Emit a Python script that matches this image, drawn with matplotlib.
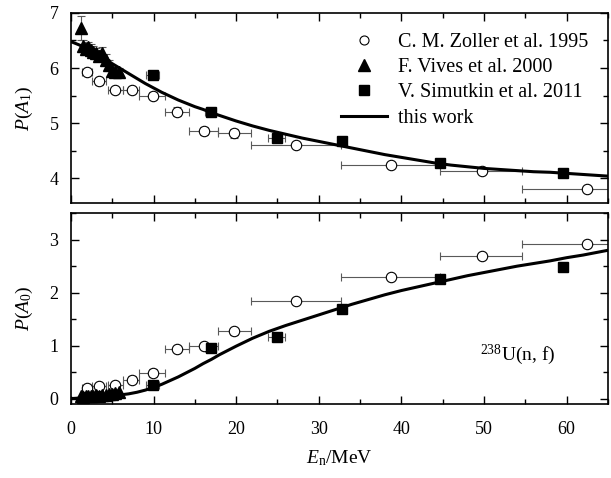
import matplotlib.pyplot as plt
import numpy as np
from matplotlib.ticker import MultipleLocator
from matplotlib.lines import Line2D

plt.rcParams['font.family'] = ['Liberation Serif', 'DejaVu Serif']
plt.rcParams['mathtext.fontset'] = 'custom'
plt.rcParams['mathtext.rm'] = 'Liberation Serif'
plt.rcParams['mathtext.it'] = 'Liberation Serif:italic'

# === Data ===
# Zoller et al. 1995 (open circles), bins given as low / high edges
zol_E = [1.9, 3.4, 5.4, 7.35, 9.9, 12.85, 16.1, 19.8, 27.3, 38.7, 49.7, 62.5]
zol_lo = [1.3, 2.6, 4.5, 6.3, 8.3, 11.4, 14.3, 17.8, 21.8, 32.7, 44.7, 54.6]
zol_hi = [2.6, 4.3, 6.3, 8.3, 11.4, 14.3, 17.8, 21.8, 32.7, 44.7, 54.6, 70.0]
zol_A1 = [5.93, 5.76, 5.60, 5.60, 5.50, 5.21, 4.86, 4.82, 4.61, 4.25, 4.14, 3.80]
zol_A1_err = [0.06, 0.06, 0.06, 0.06, 0.07, 0.08, 0.08, 0.08, 0.05, 0.05, 0.05, 0.04]
zol_A0 = [0.20, 0.23, 0.26, 0.36, 0.48, 0.94, 0.99, 1.27, 1.84, 2.30, 2.70, 2.91]
zol_A0_err = [0.06, 0.06, 0.06, 0.06, 0.07, 0.06, 0.06, 0.06, 0.05, 0.05, 0.05, 0.05]

# Vives et al. 2000 (triangles)
viv_E = [1.2, 1.5, 1.8, 2.1, 2.4, 2.7, 3.0, 3.4, 3.8, 4.2, 4.6, 5.0, 5.4, 5.8]
viv_A1 = [6.72, 6.40, 6.35, 6.38, 6.33, 6.30, 6.27, 6.22, 6.28, 6.15, 6.05, 5.95, 5.93, 5.92]
viv_A1_err = [0.22, 0.10, 0.10, 0.10, 0.10, 0.10, 0.10, 0.10, 0.10, 0.10, 0.10, 0.10, 0.08, 0.08]
viv_A0 = [0.05, 0.03, 0.04, 0.05, 0.04, 0.05, 0.06, 0.05, 0.07, 0.06, 0.08, 0.09, 0.10, 0.12]

# Simutkin et al. 2011 (filled squares)
sim_E = [9.9, 16.9, 24.9, 32.8, 44.7, 59.6]
sim_Eerr = [0.8, 0.7, 1.0, 0.0, 0.0, 0.0]
sim_A1 = [5.88, 5.20, 4.73, 4.67, 4.28, 4.09]
sim_A0 = [0.25, 0.96, 1.16, 1.70, 2.25, 2.48]

fit_E = [0, 1, 2, 3, 4, 5, 6, 7, 8, 9, 10, 11, 12, 13, 14, 15, 16, 17, 18, 19, 20,
         22, 24, 26, 28, 30, 32, 34, 36, 38, 40, 42, 44, 46, 48, 50, 52, 54, 56,
         58, 60, 62, 65]
fit_A1 = [6.48, 6.42, 6.35, 6.26, 6.17, 6.08, 5.99, 5.90, 5.81, 5.72, 5.64, 5.56,
          5.49, 5.42, 5.36, 5.30, 5.25, 5.19, 5.14, 5.09, 5.04, 4.95, 4.87, 4.80,
          4.73, 4.67, 4.61, 4.55, 4.49, 4.43, 4.38, 4.33, 4.28, 4.24, 4.21, 4.18,
          4.16, 4.14, 4.12, 4.11, 4.09, 4.07, 4.04]
fit_A0 = [0.00, 0.01, 0.02, 0.03, 0.04, 0.05, 0.07, 0.09, 0.12, 0.16, 0.21, 0.27,
          0.34, 0.41, 0.49, 0.57, 0.66, 0.74, 0.83, 0.91, 0.99, 1.14, 1.27, 1.38,
          1.48, 1.58, 1.68, 1.78, 1.87, 1.96, 2.04, 2.11, 2.18, 2.25, 2.32, 2.38,
          2.44, 2.50, 2.55, 2.60, 2.66, 2.71, 2.80]

# === Figure ===
fig = plt.figure(figsize=(6.11, 4.78), dpi=100)
ax1 = fig.add_axes([0.116, 0.575, 0.879, 0.398])
ax2 = fig.add_axes([0.116, 0.155, 0.879, 0.399])

zol_xerr = [np.array(zol_E) - np.array(zol_lo), np.array(zol_hi) - np.array(zol_E)]
ebar = dict(ecolor='0.35', elinewidth=0.8, capsize=3, capthick=0.8)

for ax, zA, zerr, vA, sA, fA in [(ax1, zol_A1, zol_A1_err, viv_A1, sim_A1, fit_A1),
                                 (ax2, zol_A0, zol_A0_err, viv_A0, sim_A0, fit_A0)]:
    ax.errorbar(zol_E, zA, xerr=zol_xerr, yerr=zerr, fmt='o', ms=7.5, mfc='white',
                mec='black', mew=0.8, **ebar)
    verr = viv_A1_err if ax is ax1 else None
    ax.errorbar(viv_E, vA, yerr=verr, fmt='^', ms=8, color='black', **ebar)
    ax.errorbar(sim_E, sA, xerr=sim_Eerr, fmt='s', ms=6.5, color='black', **ebar)
    ax.plot(fit_E, fA, color='black', lw=2.2, zorder=5)

    ax.set_xlim(0, 65)
    ax.xaxis.set_major_locator(MultipleLocator(10))
    ax.xaxis.set_minor_locator(MultipleLocator(5))
    ax.yaxis.set_major_locator(MultipleLocator(1))
    ax.yaxis.set_minor_locator(MultipleLocator(0.5))
    ax.tick_params(which='both', direction='in', top=True, right=True, labelsize=13)
    ax.tick_params(which='major', length=6, width=1)
    ax.tick_params(which='minor', length=3.5, width=1)
    ax.tick_params(axis='y', pad=9)
    for s in ax.spines.values():
        s.set_linewidth(1.2)

ax1.set_ylim(3.55, 7.0)
ax2.set_ylim(-0.1, 3.5)
ax1.tick_params(labelbottom=False)

ax1.set_ylabel(r'$P(A_1)$', fontsize=14, labelpad=10)
ax2.set_ylabel(r'$P(A_0)$', fontsize=14, labelpad=10)
ax2.set_xlabel(r'$E_{\rm n}$/MeV', fontsize=14, labelpad=8)
ax2.tick_params(axis='x', pad=12)

handles = [
    Line2D([], [], ls='none', marker='o', ms=6.5, mfc='white', mec='black', mew=0.8),
    Line2D([], [], ls='none', marker='^', ms=8, color='black'),
    Line2D([], [], ls='none', marker='s', ms=6.5, color='black'),
    Line2D([], [], color='black', lw=2.2),
]
labels = ['C. M. Zoller et al. 1995', 'F. Vives et al. 2000',
          'V. Simutkin et al. 2011', 'this work']
ax1.legend(handles, labels, loc='upper right', frameon=False, fontsize=14.5,
           handlelength=2.3, handletextpad=0.5, labelspacing=0.3,
           borderaxespad=0.5, borderpad=0.5)

ax2.text(49.5, 0.83, r'$^{238}$U(n, f)', fontsize=14, va='center')

fig.savefig('out.png', dpi=100)
